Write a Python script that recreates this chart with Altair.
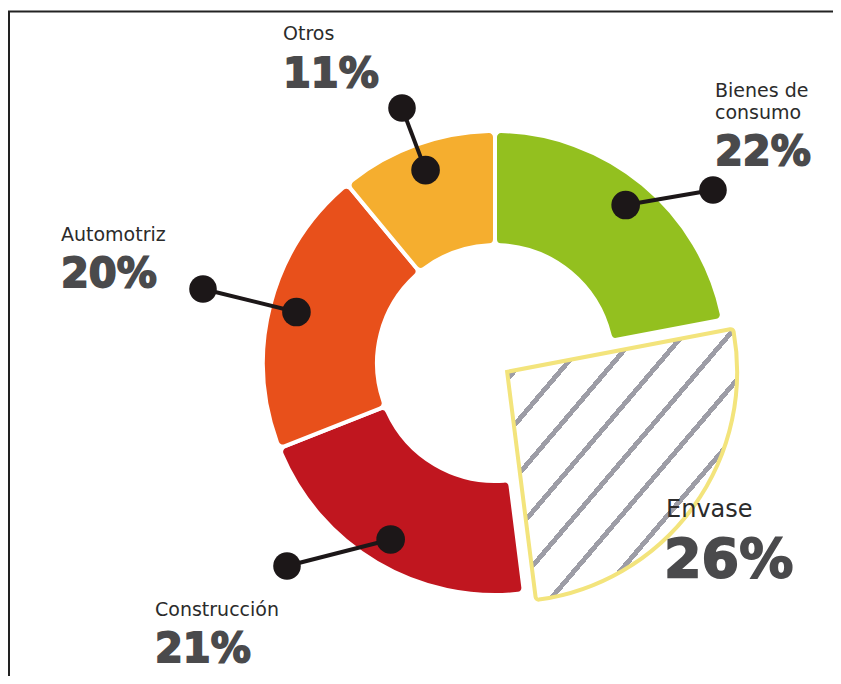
import math
import numpy as np
import pandas as pd
import altair as alt

# ---------------- data ----------------
categories = ["Bienes de consumo", "Envase", "Construcción", "Automotriz", "Otros"]
values = [22, 26, 21, 20, 11]
name_labels = ["Bienes de\nconsumo", "Envase", "Construcción", "Automotriz", "Otros"]
colors = ["#93c01f", "#ffffff", "#c0161f", "#e8501b", "#f5ae2f"]

# ---------------- layout ----------------
W, H = 825, 668
CX, CY = 487, 355
R_IN, R_OUT = 118, 232
R_DOT = 205
EXPLODE = 15

# label anchor positions (chart pixels)
name_pos = {"Bienes de consumo": (707, 89), "Envase": (658, 509), "Construcción": (147, 608),
            "Automotriz": (53, 233), "Otros": (275, 32)}
pct_pos = {"Bienes de consumo": (707, 157), "Envase": (656, 569), "Construcción": (147, 654),
           "Automotriz": (53, 279), "Otros": (275, 79)}
outer_dot = {"Bienes de consumo": (705, 182), "Construcción": (279, 558),
             "Automotriz": (195, 281), "Otros": (394, 100)}

df = pd.DataFrame({"category": categories, "value": values, "order": list(range(len(values)))})

ends = np.cumsum(values)
starts = ends - np.array(values)
total = float(sum(values))
mids = (starts + ends) / 2 / total * 2 * math.pi

theta_scale = alt.Scale(domain=[0, total], range=[0, 2 * math.pi])

base = (
    alt.Chart(df)
    .transform_window(cum="sum(value)", sort=[alt.SortField("order")], frame=[None, 0])
    .transform_calculate(start="datum.cum - datum.value")
)

ring = base.transform_filter("datum.category != 'Envase'").mark_arc(
    innerRadius=R_IN, outerRadius=R_OUT, cornerRadius=6, stroke="white", strokeWidth=4,
    x=CX, y=CY,
).encode(
    theta=alt.Theta("start:Q", scale=theta_scale),
    theta2="cum:Q",
    color=alt.Color("category:N", scale=alt.Scale(domain=categories, range=colors), legend=None),
)

# exploded, hatched Envase wedge
ei = categories.index("Envase")
dx = EXPLODE * math.sin(mids[ei])
dy = -EXPLODE * math.cos(mids[ei])

n_stripes = 10
stops = []
for k in range(n_stripes):
    a = k / n_stripes
    b = (k + 0.86) / n_stripes
    c = (k + 1) / n_stripes
    stops += [
        alt.GradientStop(offset=a, color="#ffffff"),
        alt.GradientStop(offset=b, color="#ffffff"),
        alt.GradientStop(offset=b, color="#9d9da6"),
        alt.GradientStop(offset=c, color="#9d9da6"),
    ]
hatch = alt.Gradient(gradient="linear", x1=0, y1=0, x2=1, y2=1, stops=stops)

envase = base.transform_filter("datum.category == 'Envase'").mark_arc(
    innerRadius=0, outerRadius=R_OUT - 2, cornerRadius=3, stroke="#f3e47c", strokeWidth=4,
    fill=hatch, x=CX + dx, y=CY + dy,
).encode(
    theta=alt.Theta("start:Q", scale=theta_scale),
    theta2="cum:Q",
)

# leader lines with dots
lead_rows = []
for i, cat in enumerate(categories):
    if cat not in outer_dot:
        continue
    ix = CX + R_DOT * math.sin(mids[i])
    iy = CY - R_DOT * math.cos(mids[i])
    ox, oy = outer_dot[cat]
    lead_rows.append({"category": cat, "ix": ix, "iy": iy, "ox": ox, "oy": oy})
lead = pd.DataFrame(lead_rows)

lines = alt.Chart(lead).mark_rule(color="#1c1718", strokeWidth=4).encode(
    x=alt.X("ix:Q", scale=None), y=alt.Y("iy:Q", scale=None),
    x2="ox:Q", y2="oy:Q",
)
dots_in = alt.Chart(lead).mark_circle(color="#1c1718", opacity=1, size=820).encode(
    x=alt.X("ix:Q", scale=None), y=alt.Y("iy:Q", scale=None)
)
dots_out = alt.Chart(lead).mark_circle(color="#1c1718", opacity=1, size=760).encode(
    x=alt.X("ox:Q", scale=None), y=alt.Y("oy:Q", scale=None)
)

# texts
txt_rows = []
for i, cat in enumerate(categories):
    big = cat == "Envase"
    nx, ny = name_pos[cat]
    px, py = pct_pos[cat]
    txt_rows.append({"category": cat, "name": name_labels[i], "pct": f"{values[i]}%",
                     "nx": nx, "ny": ny, "px": px, "py": py,
                     "nsize": 24 if big else 19, "psize": 54 if big else 40})
txt = pd.DataFrame(txt_rows)

names = alt.Chart(txt).mark_text(
    align="left", baseline="alphabetic", font="DejaVu Sans", color="#2b2b2b",
    lineBreak="\n", lineHeight=22,
).encode(
    x=alt.X("nx:Q", scale=None), y=alt.Y("ny:Q", scale=None),
    text="name:N", size=alt.Size("nsize:Q", scale=None, legend=None),
)
pcts = alt.Chart(txt).mark_text(
    align="left", baseline="alphabetic", font="DejaVu Sans", fontWeight="bold",
    color="#4a4a4c", stroke="#4a4a4c", strokeWidth=1.8,
).encode(
    x=alt.X("px:Q", scale=None), y=alt.Y("py:Q", scale=None),
    text="pct:N", size=alt.Size("psize:Q", scale=None, legend=None),
)

# frame lines (top and left)
frame_df = pd.DataFrame({"k": [0]})
top_line = alt.Chart(frame_df).mark_rule(color="#222222", strokeWidth=2).encode(
    x=alt.value(0), x2=alt.value(W), y=alt.value(3.5)
)
left_line = alt.Chart(frame_df).mark_rule(color="#222222", strokeWidth=2).encode(
    x=alt.value(1), y=alt.value(3.5), y2=alt.value(H)
)

chart = (
    alt.layer(ring, envase, lines, dots_in, dots_out, names, pcts, top_line, left_line)
    .resolve_scale(size="independent")
    .properties(width=W, height=H, padding=0, autosize=alt.AutoSizeParams(type="none"),
                background="white")
    .configure_view(stroke=None)
)

chart.save("out.html", embed_options={"renderer": "svg", "actions": False})
